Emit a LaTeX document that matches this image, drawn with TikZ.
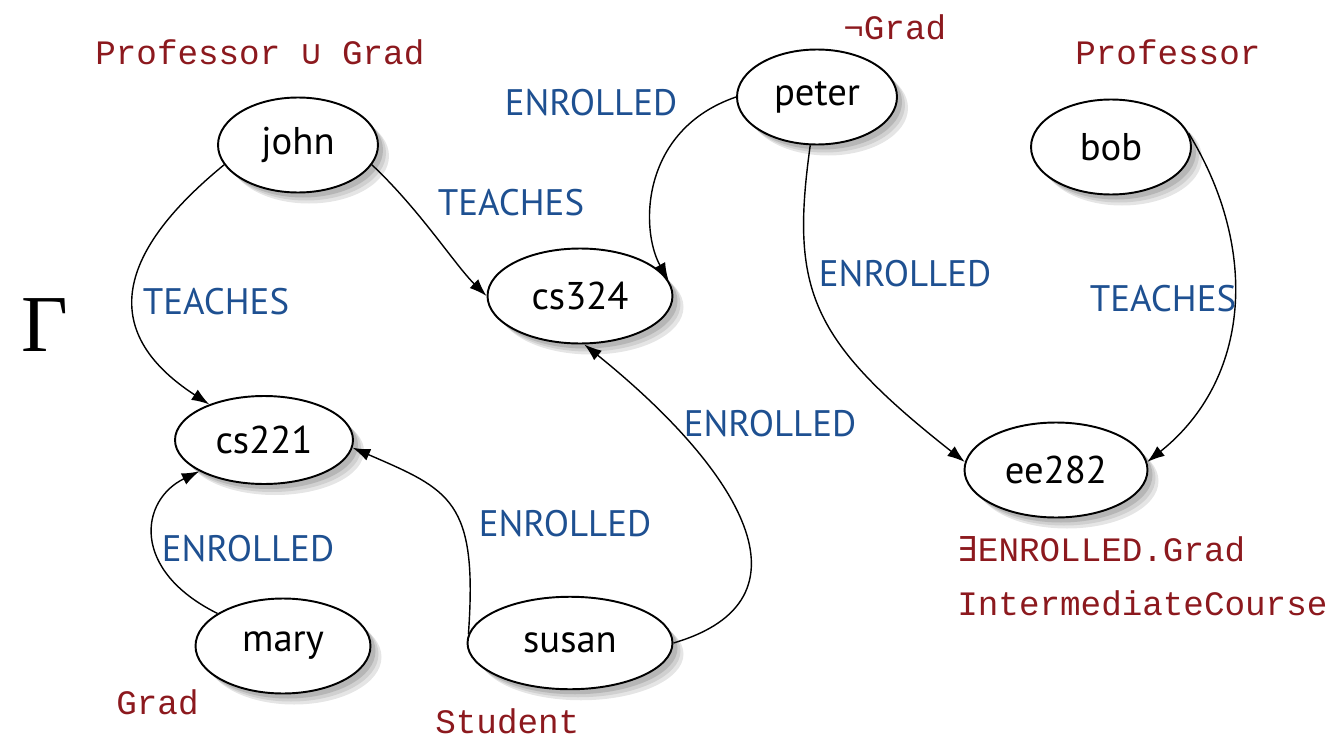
\documentclass[tikz,border=0pt]{standalone}
\usepackage{xcolor}
\usepackage{fontspec}
\usepackage{tikz}
\usetikzlibrary{arrows.meta, shapes.geometric}

\newfontfamily\indfont{PT Sans}
\newfontfamily\relfont{PT Sans}
\newfontfamily\conceptfont{Liberation Mono}
\newfontfamily\conceptsym{DejaVu Sans Mono}
\newfontfamily\gammafont{Liberation Serif}

\definecolor{relblue}{RGB}{30,80,145}
\definecolor{conceptred}{RGB}{140,25,30}
\definecolor{shadowgray}{RGB}{150,150,150}

\begin{document}
\begin{tikzpicture}[
    x=0.02cm, y=-0.02cm,
    ind/.style={ellipse, draw, line width=1.1pt, fill=white, inner sep=0pt,
        minimum width=3.2cm, minimum height=1.9cm,
        font=\indfont\fontsize{22}{26}\selectfont},
    rel/.style={text=relblue, inner sep=0pt, font=\relfont\fontsize{21}{25}\selectfont},
    concept/.style={text=conceptred, inner sep=0pt, anchor=west,
        font=\conceptfont\fontsize{19.5}{23}\selectfont},
    arrow/.style={-{Latex[length=10pt,width=7pt]}, line width=0.8pt}
]
\useasboundingbox (0,0) rectangle (1332,740);

% soft shadows first, the ellipses are drawn over them
\foreach \cx/\cy/\rx/\ry in {298/145/80/47.5, 817/97/80/47.5, 1111/147/80/47.5,
    580/296/92.5/47.5, 264/440/89/44, 1056/470/91.5/47.5,
    283/646/87.5/47.5, 570/643/102.5/46.25} {
  \foreach \s/\g in {11/25, 8/45, 5/70}
    \fill[shadowgray!\g!white] (\cx+\s, \cy+\s) ellipse [x radius=\rx, y radius=\ry];
}

% Individuals
\node[ind] (john) at (298,145) {john};
\node[ind] (peter) at (817,97) {peter};
\node[ind] (bob) at (1111,147) {bob};
\node[ind, minimum width=3.7cm] (cs324) at (580,296) {cs324};
\node[ind, minimum width=3.56cm, minimum height=1.76cm] (cs221) at (264,440) {cs221};
\node[ind, minimum width=3.66cm] (ee282) at (1056,470) {ee282};
\node[ind, minimum width=3.5cm] (mary) at (283,646) {mary};
\node[ind, minimum width=4.1cm, minimum height=1.85cm] (susan) at (570,643) {susan};

% Concepts
\node[concept] (c1) at (95,52) {Professor {\conceptsym ∪} Grad};
\node[concept] (c2) at (843,27) {¬Grad};
\node[concept] (c3) at (1075,52) {Professor};
\node[concept] (c4) at (957,549) {{\conceptsym ∃}ENROLLED.Grad};
\node[concept] (c5) at (957,603) {IntermediateCourse};
\node[concept] (c6) at (116,702) {Grad};
\node[concept] (c7) at (435,721) {Student};

\node[font=\gammafont\fontsize{46}{50}\selectfont, inner sep=0pt] (gamma) at (45,325) {Γ};

% Roles
\draw[arrow] (john.195) .. controls (120,250) and (95,330) .. (cs221)
    node[rel] at (216,302) {TEACHES};
\draw[arrow] (john.-15) .. controls (420,210) and (455,265) .. (cs324.west)
    node[rel] at (511,203) {TEACHES};
\draw[arrow] (peter.west) .. controls (640,130) and (640,230) .. (cs324.10)
    node[rel] at (591,103) {ENROLLED};
\draw[arrow] (peter) .. controls (790,290) and (810,340) .. (ee282.175)
    node[rel] at (905,274) {ENROLLED};
\draw[arrow] (bob.10) .. controls (1260,250) and (1250,380) .. (ee282.5)
    node[rel] at (1163,299) {TEACHES};
\draw[arrow] (susan.east) .. controls (820,600) and (740,470) .. (cs324.275)
    node[rel] at (770,424) {ENROLLED};
\draw[arrow] (susan.175) .. controls (478,500) and (450,490) .. (cs221.355)
    node[rel] at (565,524) {ENROLLED};
\draw[arrow] (mary) .. controls (130,570) and (140,500) .. (cs221)
    node[rel] at (248,549) {ENROLLED};

\end{tikzpicture}
\end{document}
